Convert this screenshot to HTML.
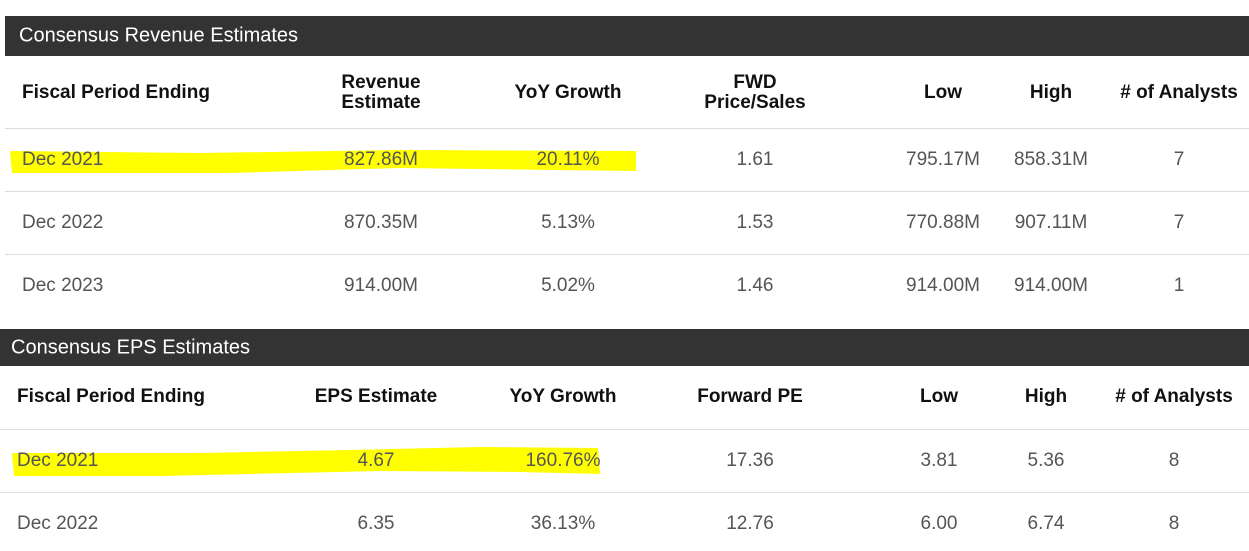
<!DOCTYPE html>
<html><head><meta charset="utf-8"><style>
body{margin:0;width:1249px;height:551px;background:#fff;position:relative;overflow:hidden;font-family:"Liberation Sans",Arial,sans-serif}
.bar{position:absolute;background:#333;color:#fff;font-size:20px}
.bar span{position:absolute;top:50%;transform:translateY(-50%)}
.t{position:absolute;white-space:nowrap;transform:translate(-50%,-50%);font-size:19px;color:#555}
.l{transform:translate(0,-50%)}
.h{font-weight:bold;color:#111;text-align:center;line-height:20px}
.rule{position:absolute;height:1px;background:#ddd}
svg{position:absolute;left:0;top:0}
</style></head><body>
<svg width="1249" height="551">
<path fill="#ffff00" d="M10,151 L200,153 L400,150 L636,151 L636,171 L400,168 L230,173 L12,173 Z"/>
<path fill="#ffff00" d="M12,453 L200,453 L350,450 L480,447 L598,448 L600,474 L520,472 L380,471 L160,476 L14,476 Z"/>
</svg>

<div class="bar" style="left:5px;top:16px;width:1244px;height:40px"><span style="left:14px">Consensus Revenue Estimates</span></div>
<div class="t h l" style="left:22px;top:93px">Fiscal Period Ending</div>
<div class="t h" style="left:381px;top:93px">Revenue<br>Estimate</div>
<div class="t h" style="left:568px;top:93px">YoY Growth</div>
<div class="t h" style="left:755px;top:93px">FWD<br>Price/Sales</div>
<div class="t h" style="left:943px;top:93px">Low</div>
<div class="t h" style="left:1051px;top:93px">High</div>
<div class="t h" style="left:1179px;top:93px"># of Analysts</div>
<div class="rule" style="left:5px;top:128px;width:1244px"></div>

<div>
<div class="t l" style="left:22px;top:160px">Dec 2021</div><div class="t" style="left:381px;top:160px">827.86M</div><div class="t" style="left:568px;top:160px">20.11%</div><div class="t" style="left:755px;top:160px">1.61</div><div class="t" style="left:943px;top:160px">795.17M</div><div class="t" style="left:1051px;top:160px">858.31M</div><div class="t" style="left:1179px;top:160px">7</div></div>
<div class="rule" style="left:5px;top:191px;width:1244px"></div>
<div>
<div class="t l" style="left:22px;top:223px">Dec 2022</div><div class="t" style="left:381px;top:223px">870.35M</div><div class="t" style="left:568px;top:223px">5.13%</div><div class="t" style="left:755px;top:223px">1.53</div><div class="t" style="left:943px;top:223px">770.88M</div><div class="t" style="left:1051px;top:223px">907.11M</div><div class="t" style="left:1179px;top:223px">7</div></div>
<div class="rule" style="left:5px;top:254px;width:1244px"></div>
<div>
<div class="t l" style="left:22px;top:286px">Dec 2023</div><div class="t" style="left:381px;top:286px">914.00M</div><div class="t" style="left:568px;top:286px">5.02%</div><div class="t" style="left:755px;top:286px">1.46</div><div class="t" style="left:943px;top:286px">914.00M</div><div class="t" style="left:1051px;top:286px">914.00M</div><div class="t" style="left:1179px;top:286px">1</div></div>

<div class="bar" style="left:0;top:329px;width:1249px;height:37px"><span style="left:11px">Consensus EPS Estimates</span></div>
<div class="t h l" style="left:17px;top:397px">Fiscal Period Ending</div>
<div class="t h" style="left:376px;top:397px">EPS Estimate</div>
<div class="t h" style="left:563px;top:397px">YoY Growth</div>
<div class="t h" style="left:750px;top:397px">Forward PE</div>
<div class="t h" style="left:939px;top:397px">Low</div>
<div class="t h" style="left:1046px;top:397px">High</div>
<div class="t h" style="left:1174px;top:397px"># of Analysts</div>
<div class="rule" style="left:0;top:429px;width:1249px"></div>
<div>
<div class="t l" style="left:17px;top:461px">Dec 2021</div><div class="t" style="left:376px;top:461px">4.67</div><div class="t" style="left:563px;top:461px">160.76%</div><div class="t" style="left:750px;top:461px">17.36</div><div class="t" style="left:939px;top:461px">3.81</div><div class="t" style="left:1046px;top:461px">5.36</div><div class="t" style="left:1174px;top:461px">8</div></div>
<div class="rule" style="left:0;top:492px;width:1249px"></div>
<div>
<div class="t l" style="left:17px;top:524px">Dec 2022</div><div class="t" style="left:376px;top:524px">6.35</div><div class="t" style="left:563px;top:524px">36.13%</div><div class="t" style="left:750px;top:524px">12.76</div><div class="t" style="left:939px;top:524px">6.00</div><div class="t" style="left:1046px;top:524px">6.74</div><div class="t" style="left:1174px;top:524px">8</div></div>
</body></html>
